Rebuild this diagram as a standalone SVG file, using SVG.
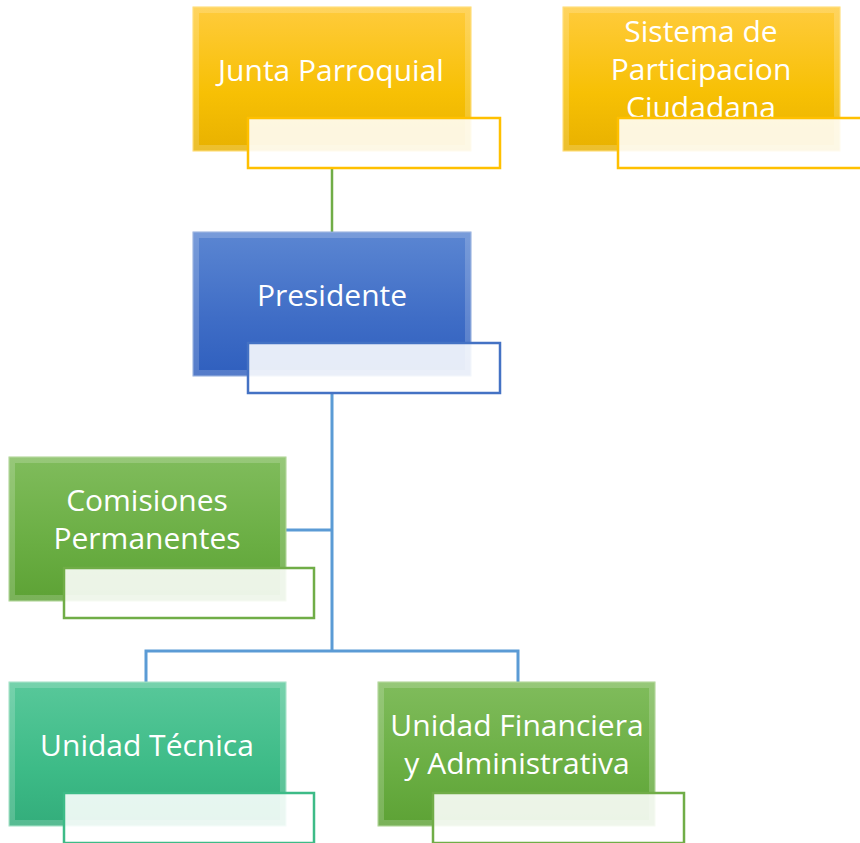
<svg xmlns="http://www.w3.org/2000/svg" width="860" height="843" viewBox="0 0 860 843">
<defs>
<linearGradient id="gY" x1="0" y1="0" x2="0" y2="1"><stop offset="0" stop-color="#ffcb3c"/><stop offset="0.6" stop-color="#f7c004"/><stop offset="1" stop-color="#e8b100"/></linearGradient>
<linearGradient id="gB" x1="0" y1="0" x2="0" y2="1"><stop offset="0" stop-color="#5b86d2"/><stop offset="0.6" stop-color="#3f6dc6"/><stop offset="1" stop-color="#2f5fbe"/></linearGradient>
<linearGradient id="gG" x1="0" y1="0" x2="0" y2="1"><stop offset="0" stop-color="#80bc5c"/><stop offset="0.6" stop-color="#6aae43"/><stop offset="1" stop-color="#5da235"/></linearGradient>
<linearGradient id="gT" x1="0" y1="0" x2="0" y2="1"><stop offset="0" stop-color="#58c89a"/><stop offset="0.6" stop-color="#3dbb87"/><stop offset="1" stop-color="#33ad7b"/></linearGradient>
</defs>
<style>
.bevel{fill:none;stroke:#ffffff;stroke-opacity:0.18;stroke-width:6}
.t{font-family:"Open Sans","Noto Sans",sans-serif;font-size:30px;fill:#ffffff;text-anchor:middle}
.sub{fill:#ffffff;fill-opacity:0.88;stroke-width:2.5}
.cg{fill:none;stroke:#70ad47;stroke-width:2.5}
.cb{fill:none;stroke:#5b9bd5;stroke-width:3}
</style>
<g id="connectors">
<line class="cg" x1="332" y1="168" x2="332" y2="232"/>
<path class="cb" d="M332 393 V651 M332 530 H286 M146 682 V651 H518 V682"/>
</g>
<g id="junta">
<rect x="193" y="7" width="278" height="144" fill="url(#gY)" stroke="#ffd966" stroke-width="1"/>
<rect class="bevel" x="196" y="10" width="272" height="138"/>
<text class="t" x="331" y="81">Junta Parroquial</text>
<rect class="sub" x="248" y="118" width="252" height="50" stroke="#ffc000"/>
</g>
<g id="sistema">
<rect x="563" y="7" width="277" height="144" fill="url(#gY)" stroke="#ffd966" stroke-width="1"/>
<rect class="bevel" x="566" y="10" width="271" height="138"/>
<text class="t" x="701" y="42">Sistema de</text>
<text class="t" x="701" y="80">Participacion</text>
<text class="t" x="701" y="118">Ciudadana</text>
<rect class="sub" x="618" y="118" width="250" height="50" stroke="#ffc000"/>
</g>
<g id="presidente">
<rect x="193" y="232" width="278" height="144" fill="url(#gB)" stroke="#8eaadb" stroke-width="1"/>
<rect class="bevel" x="196" y="235" width="272" height="138"/>
<text class="t" x="332" y="306">Presidente</text>
<rect class="sub" x="248" y="343" width="252" height="50" stroke="#4472c4"/>
</g>
<g id="comisiones">
<rect x="9" y="457" width="277" height="144" fill="url(#gG)" stroke="#a9d18e" stroke-width="1"/>
<rect class="bevel" x="12" y="460" width="271" height="138"/>
<text class="t" x="147" y="511">Comisiones</text>
<text class="t" x="147" y="549">Permanentes</text>
<rect class="sub" x="64" y="568" width="250" height="50" stroke="#70ad47"/>
</g>
<g id="tecnica">
<rect x="9" y="682" width="277" height="144" fill="url(#gT)" stroke="#9fe0c4" stroke-width="1"/>
<rect class="bevel" x="12" y="685" width="271" height="138"/>
<text class="t" x="147" y="756">Unidad Técnica</text>
<rect class="sub" x="64" y="793" width="250" height="50" stroke="#3dbb87"/>
</g>
<g id="financiera">
<rect x="378" y="682" width="277" height="144" fill="url(#gG)" stroke="#a9d18e" stroke-width="1"/>
<rect class="bevel" x="381" y="685" width="271" height="138"/>
<text class="t" x="517" y="736">Unidad Financiera</text>
<text class="t" x="517" y="774">y Administrativa</text>
<rect class="sub" x="433" y="793" width="251" height="50" stroke="#70ad47"/>
</g>
</svg>
